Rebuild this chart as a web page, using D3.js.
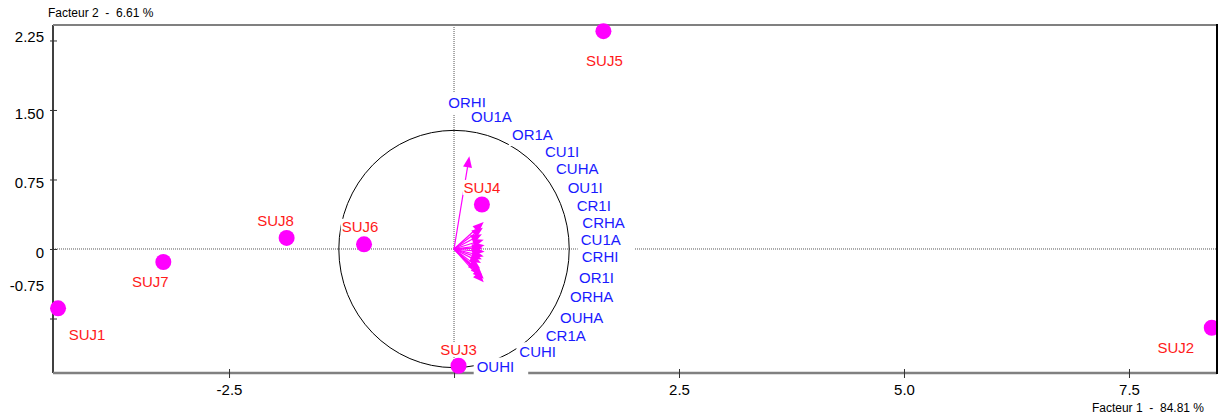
<!DOCTYPE html>
<html><head><meta charset="utf-8">
<script src="https://cdn.jsdelivr.net/npm/d3@7"></script>
<style>
body{margin:0;background:#fff}
svg{display:block;font-family:"Liberation Sans",Arial,Helvetica,sans-serif}
</style>
</head><body>
<svg id="chart" width="1219" height="419"></svg>
<script>
// ---------------- data ----------------
const xTickValues = [-2.5, 0, 2.5, 5.0, 7.5];
const xTickLabels = ["-2.5", "", "2.5", "5.0", "7.5"];
const yTickValues = [2.25, 1.5, 0.75, 0, -0.75];
const yTickLabels = ["2.25", "1.50", "0.75", "0", "-0.75"];
const xAxisTitle = "Facteur 1  -  84.81 %";
const yAxisTitle = "Facteur 2  -  6.61 %";

const subjects = ["SUJ1", "SUJ2", "SUJ3", "SUJ4", "SUJ5", "SUJ6", "SUJ7", "SUJ8"];
const subjX = [-4.40, 8.42, 0.05, 0.31, 1.66, -1.00, -3.23, -1.86];
const subjY = [-0.64, -0.85, -1.26, 0.48, 2.35, 0.05, -0.14, 0.12];

const variables = ["ORHI", "OU1A", "OR1A", "CU1I", "CUHA", "OU1I", "CR1I", "CRHA",
                   "CU1A", "CRHI", "OR1I", "ORHA", "OUHA", "CUHI", "CR1A", "OUHI"];
const varX = [0.17, 0.33, 0.32, 0.31, 0.33, 0.34, 0.32, 0.34,
              0.33, 0.31, 0.30, 0.29, 0.28, 0.33, 0.31, 0.33];
const varY = [1.00, 0.29, 0.23, 0.16, 0.10, 0.04, 0.01, -0.03,
              -0.08, -0.11, -0.15, -0.21, -0.24, -0.32, -0.28, -0.36];
// label anchors of the variables (data units, left edge / middle of text)
const varLabelX = [-0.063, 0.189, 0.644, 1.011, 1.133, 1.263, 1.363, 1.426,
                   1.408, 1.419, 1.389, 1.289, 1.178, 0.726, 1.019, 0.252];
const varLabelY = [1.580, 1.427, 1.233, 1.052, 0.866, 0.663, 0.471, 0.284,
                   0.100, -0.086, -0.313, -0.512, -0.742, -1.110, -0.933, -1.274];
const circleRadius = 1.28;

// ---------------- layout ----------------
const W = 1219, H = 419;
const plot = {left: 53, right: 1217, top: 25, bottom: 373};
const xDomain = [-4.456, 8.478];
const yDomain = [-1.338, 2.417];
// subject label offsets (pixels from dot centre to label centre)
const subjLabelOffset = [[29, 26], [-36, 20], [0, -16], [0, -17], [1, 29], [-4, -18], [-13, 20], [-11, -17]];
const yLabelShift = {"2.25": -7, "-0.75": -36.5};

const x = d3.scaleLinear().domain(xDomain).range([plot.left, plot.right]);
const y = d3.scaleLinear().domain(yDomain).range([plot.bottom, plot.top]);

const svg = d3.select("#chart");
const FS = 15;
const BLUE = "#1a1aff", RED = "#ff1a1a", MAG = "#ff00ff";

// dotted zero lines
svg.append("line").attr("x1", plot.left).attr("x2", plot.right)
  .attr("y1", y(0)).attr("y2", y(0))
  .attr("stroke", "#555").attr("stroke-width", 1).attr("stroke-dasharray", "1,1");
svg.append("line").attr("x1", x(0)).attr("x2", x(0))
  .attr("y1", plot.top).attr("y2", plot.bottom)
  .attr("stroke", "#555").attr("stroke-width", 1).attr("stroke-dasharray", "1,1");

// frame lines (left, top, bottom)
svg.append("line").attr("x1", plot.left).attr("x2", plot.left).attr("y1", plot.top).attr("y2", plot.bottom)
  .attr("stroke", "#000").attr("stroke-width", 1.5);
svg.append("line").attr("x1", plot.left).attr("x2", plot.right).attr("y1", plot.top).attr("y2", plot.top)
  .attr("stroke", "#808080").attr("stroke-width", 2);
svg.append("line").attr("x1", plot.left).attr("x2", plot.right).attr("y1", plot.bottom).attr("y2", plot.bottom)
  .attr("stroke", "#808080").attr("stroke-width", 2.5);

// y axis
const gy = svg.append("g").attr("transform", `translate(${plot.left},0)`)
  .call(d3.axisLeft(y).tickValues(yTickValues).tickFormat((d, i) => yTickLabels[i]));
gy.select(".domain").remove();
gy.selectAll(".tick line").attr("x1", -3).attr("x2", 4).attr("stroke", "#333");
gy.selectAll(".tick text").attr("x", -9).attr("dy", null)
  .attr("y", (d, i) => 8.5 + (yLabelShift[yTickLabels[i]] || 0))
  .attr("font-size", FS).attr("font-family", null).attr("fill", "#000");

// x axis
const gx = svg.append("g").attr("transform", `translate(0,${plot.bottom})`)
  .call(d3.axisBottom(x).tickValues(xTickValues).tickFormat((d, i) => xTickLabels[i]));
gx.select(".domain").remove();
gx.selectAll(".tick line").attr("y1", -4).attr("y2", 5).attr("stroke", "#333");
gx.selectAll(".tick text").attr("y", 22).attr("dy", null)
  .attr("font-size", FS).attr("font-family", null).attr("fill", "#000");

// axis titles
svg.append("text").attr("x", 48).attr("y", 17).attr("font-size", 12).attr("fill", "#000")
  .style("white-space", "pre").attr("xml:space", "preserve").text(yAxisTitle);
svg.append("text").attr("x", 1204).attr("y", 412).attr("text-anchor", "end").attr("font-size", 12)
  .attr("fill", "#000").style("white-space", "pre").attr("xml:space", "preserve").text(xAxisTitle);

// correlation circle
svg.append("ellipse").attr("cx", x(0)).attr("cy", y(0))
  .attr("rx", x(circleRadius) - x(0)).attr("ry", y(0) - y(circleRadius))
  .attr("fill", "none").attr("stroke", "#000").attr("stroke-width", 1);

// arrows
const HL = 11, HW = 4.5;
variables.forEach((v, i) => {
  const x0 = x(0), y0 = y(0), x1 = x(varX[i]), y1 = y(varY[i]);
  const dx = x1 - x0, dy = y1 - y0, L = Math.hypot(dx, dy);
  const ux = dx / L, uy = dy / L;
  const bx = x1 - ux * HL, by = y1 - uy * HL;
  svg.append("line").attr("x1", x0).attr("y1", y0).attr("x2", bx).attr("y2", by)
    .attr("stroke", MAG).attr("stroke-width", 1.2);
  svg.append("polygon")
    .attr("points", `${x1},${y1} ${bx - uy * HW},${by + ux * HW} ${bx + uy * HW},${by - ux * HW}`)
    .attr("fill", MAG);
});

function boxedLabel(cx, cy, txt, color, anchor) {
  const g = svg.append("g");
  const r = g.append("rect").attr("fill", "#fff");
  const t = g.append("text").attr("x", cx).attr("y", cy + 5.4)
    .attr("text-anchor", anchor).attr("font-size", FS).attr("fill", color).text(txt);
  const b = t.node().getBBox();
  r.attr("x", b.x - 3).attr("y", b.y - 1).attr("width", b.width + 17).attr("height", b.height + 4);
}

// variable labels
variables.forEach((v, i) => boxedLabel(x(varLabelX[i]), y(varLabelY[i]), v, BLUE, "start"));

// subjects
svg.selectAll("circle.subj").data(subjects).enter().append("circle").attr("class", "subj")
  .attr("cx", (d, i) => x(subjX[i])).attr("cy", (d, i) => y(subjY[i])).attr("r", 8).attr("fill", MAG);
subjects.forEach((s, i) => {
  const g = svg.append("g");
  const r = g.append("rect").attr("fill", "#fff");
  const t = g.append("text").attr("x", x(subjX[i]) + subjLabelOffset[i][0])
    .attr("y", y(subjY[i]) + subjLabelOffset[i][1] + 5.4)
    .attr("text-anchor", "middle").attr("font-size", FS).attr("fill", RED).text(s);
  const b = t.node().getBBox();
  r.attr("x", b.x - 1).attr("y", b.y + 1).attr("width", b.width + 2).attr("height", b.height - 2);
});

// right border on top
svg.append("rect").attr("x", plot.right + 1).attr("y", 0).attr("width", W - plot.right).attr("height", H).attr("fill", "#fff");
svg.append("line").attr("x1", plot.right).attr("x2", plot.right).attr("y1", plot.top - 1).attr("y2", plot.bottom + 1)
  .attr("stroke", "#000").attr("stroke-width", 2);
</script>
</body></html>
